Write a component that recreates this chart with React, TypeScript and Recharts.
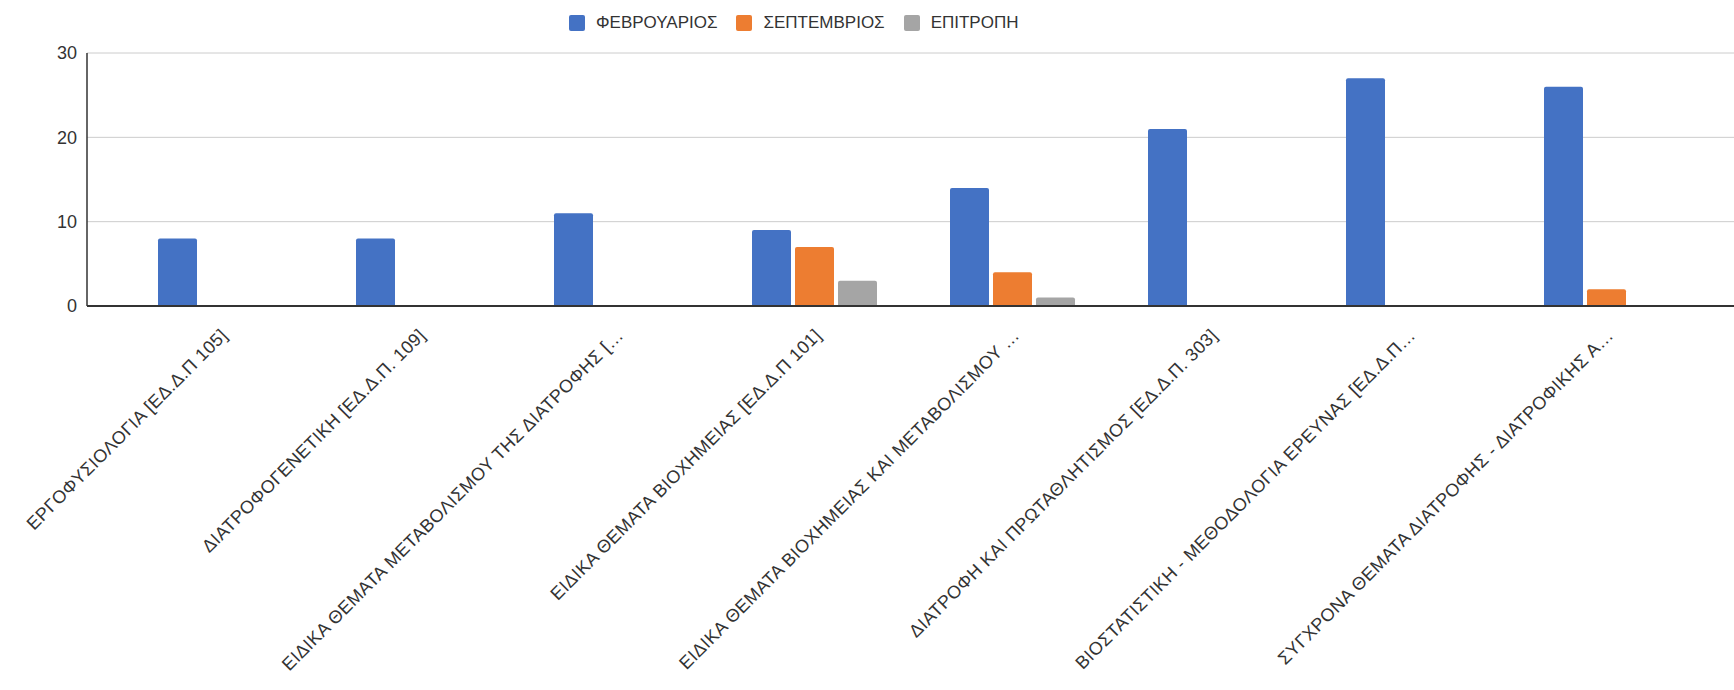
import React from "react";
import {
  BarChart,
  Bar,
  XAxis,
  YAxis,
  CartesianGrid,
  Legend,
} from "recharts";

const categories = [
  "ΕΡΓΟΦΥΣΙΟΛΟΓΙΑ [ΕΔ.Δ.Π 105]",
  "ΔΙΑΤΡΟΦΟΓΕΝΕΤΙΚΗ [ΕΔ.Δ.Π. 109]",
  "ΕΙΔΙΚΑ ΘΕΜΑΤΑ ΜΕΤΑΒΟΛΙΣΜΟΥ ΤΗΣ ΔΙΑΤΡΟΦΗΣ […",
  "ΕΙΔΙΚΑ ΘΕΜΑΤΑ ΒΙΟΧΗΜΕΙΑΣ [ΕΔ.Δ.Π 101]",
  "ΕΙΔΙΚΑ ΘΕΜΑΤΑ ΒΙΟΧΗΜΕΙΑΣ ΚΑΙ ΜΕΤΑΒΟΛΙΣΜΟΥ …",
  "ΔΙΑΤΡΟΦΗ ΚΑΙ ΠΡΩΤΑΘΛΗΤΙΣΜΟΣ [ΕΔ.Δ.Π. 303]",
  "ΒΙΟΣΤΑΤΙΣΤΙΚΗ - ΜΕΘΟΔΟΛΟΓΙΑ ΕΡΕΥΝΑΣ [ΕΔ.Δ.Π…",
  "ΣΥΓΧΡΟΝΑ ΘΕΜΑΤΑ ΔΙΑΤΡΟΦΗΣ - ΔΙΑΤΡΟΦΙΚΗΣ Α…",
];

const february = [8, 8, 11, 9, 14, 21, 27, 26];
const september = [0, 0, 0, 7, 4, 0, 0, 2];
const committee = [0, 0, 0, 3, 1, 0, 0, 0];

const yTicks = [0, 10, 20, 30];

const seriesNames = ["ΦΕΒΡΟΥΑΡΙΟΣ", "ΣΕΠΤΕΜΒΡΙΟΣ", "ΕΠΙΤΡΟΠΗ"];
const seriesColors = ["#4472C4", "#ED7D31", "#A5A5A5"];

const data = categories.map((name, i) => ({
  name,
  feb: february[i],
  sep: september[i],
  com: committee[i],
}));

const FONT = "'Liberation Sans', Arial, sans-serif";

const XTick = (props: any) => {
  const { x, y, payload } = props;
  return (
    <text
      transform={`translate(${x + 3},${y + 18}) rotate(-45)`}
      textAnchor="end"
      dy="0.35em"
      fontFamily={FONT}
      fontSize={18}
      letterSpacing={0.4}
      fill="#333"
    >
      {payload.value}
    </text>
  );
};

const LegendContent = () => (
  <div
    style={{
      display: "flex",
      alignItems: "center",
      fontFamily: FONT,
      fontSize: 17,
      color: "#333",
      whiteSpace: "nowrap",
    }}
  >
    {seriesNames.map((n, i) => (
      <div
        key={n}
        style={{ display: "flex", alignItems: "center", marginRight: 19 }}
      >
        <span
          style={{
            display: "inline-block",
            width: 16,
            height: 16,
            borderRadius: 2,
            background: seriesColors[i],
            marginRight: 11,
          }}
        />
        <span>{n}</span>
      </div>
    ))}
  </div>
);

export default function App() {
  return (
    <div style={{ position: "absolute", left: 0, top: 0, background: "#fff" }}>
      <BarChart
        width={1734}
        height={690}
        data={data}
        margin={{ top: 53, right: 0, bottom: 0, left: 0 }}
        barCategoryGap={36}
        barGap={4}
      >
        <CartesianGrid vertical={false} stroke="#cccccc" />
        <XAxis
          dataKey="name"
          interval={0}
          height={384}
          tickLine={false}
          axisLine={{ stroke: "#333", strokeWidth: 2 }}
          tick={<XTick />}
          padding={{ left: 35, right: 28 }}
        />
        <YAxis
          width={87}
          domain={[0, 30]}
          ticks={yTicks}
          tickLine={false}
          tickSize={0}
          tickMargin={10}
          axisLine={{ stroke: "#333", strokeWidth: 1.5 }}
          tick={{ fontFamily: FONT, fontSize: 18, fill: "#333" }}
        />
        <Legend
          verticalAlign="middle"
          align="center"
          layout="horizontal"
          wrapperStyle={{ top: 13, left: 569, width: 560 }}
          content={<LegendContent />}
        />
        <Bar dataKey="feb" name={seriesNames[0]} fill={seriesColors[0]} radius={[2, 2, 0, 0]} isAnimationActive={false} />
        <Bar dataKey="sep" name={seriesNames[1]} fill={seriesColors[1]} radius={[2, 2, 0, 0]} isAnimationActive={false} />
        <Bar dataKey="com" name={seriesNames[2]} fill={seriesColors[2]} radius={[2, 2, 0, 0]} isAnimationActive={false} />
      </BarChart>
    </div>
  );
}
